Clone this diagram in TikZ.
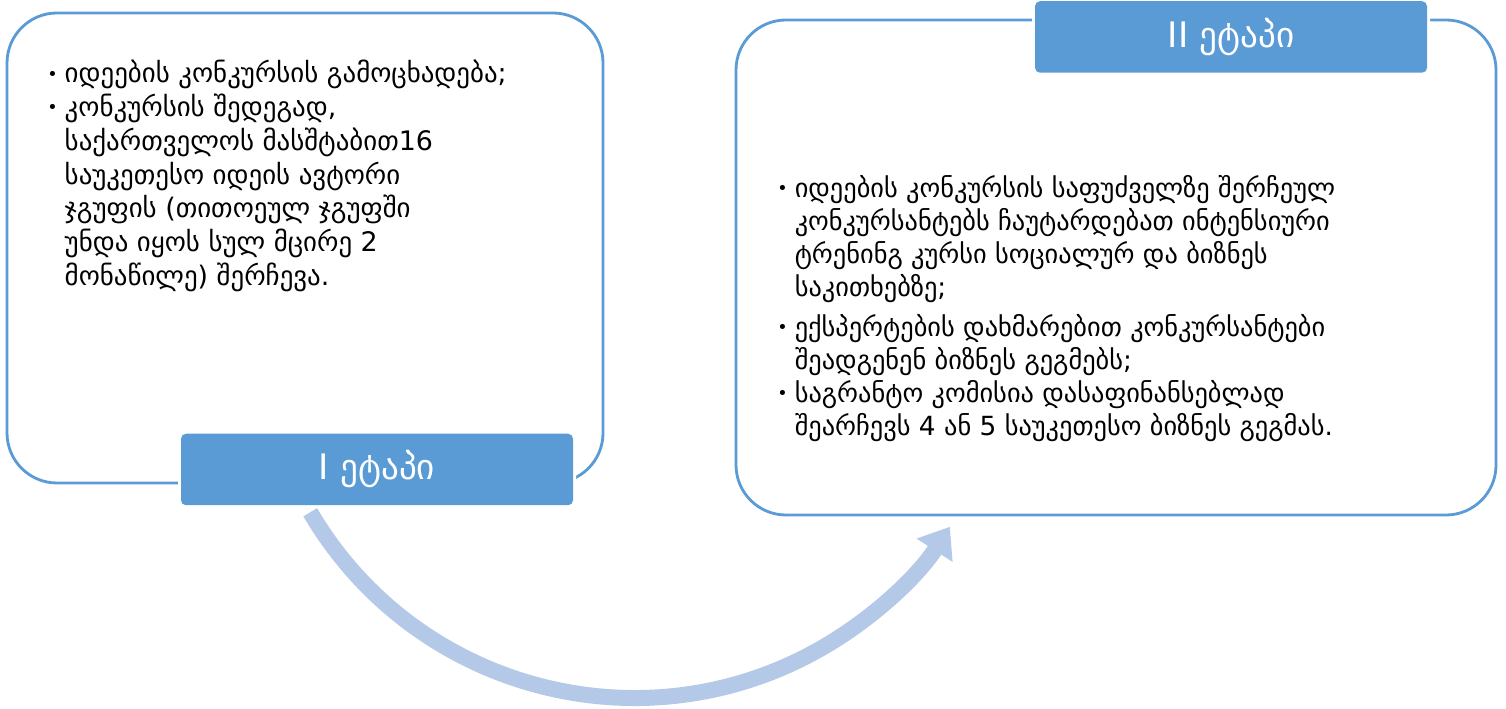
\documentclass[tikz,border=0pt]{standalone}
\usepackage{fontspec}
\setmainfont{DejaVu Sans}
\usepackage{xcolor}
\usepackage{tikz}
\usetikzlibrary{arrows.meta,positioning}

\definecolor{stageblue}{RGB}{91,155,213}
\definecolor{arrowblue}{RGB}{180,200,231}
\newcommand{\bul}{\raisebox{0.2ex}{\fontsize{10}{10}\selectfont •}}

\begin{document}
\begin{tikzpicture}[
  stagebox/.style={draw=stageblue, line width=1.6pt, rounded corners=1cm, inner sep=0pt},
  stagelabel/.style={fill=stageblue, rounded corners=0.1cm, text=white, inner sep=0pt,
    minimum width=7.84cm, minimum height=1.43cm, font=\fontsize{20}{20}\selectfont,
    preaction={draw=white, line width=0.12cm}},
  itemtext/.style={anchor=north west, inner sep=0pt, align=left},
  flowarrow/.style={draw=arrowblue, line width=0.32cm, -{Triangle[length=0.56cm, width=0.82cm]}}
]
\useasboundingbox (0,0) rectangle (30.12,14.18);

% Stage I
\node[stagebox, minimum width=11.92cm, minimum height=9.4cm] (box1) at (6.1,9.22) {};
\node[itemtext] (text1) at (0.94,13.0) {\fontsize{15.3}{19.2}\selectfont
  \begin{tabular}{@{}c@{\hspace{4pt}}l@{}}
  \bul & იდეების კონკურსის გამოცხადება;\\
  \bul & კონკურსის შედეგად,\\
       & საქართველოს მასშტაბით16\\
       & საუკეთესო იდეის ავტორი\\
       & ჯგუფის (თითოეულ ჯგუფში\\
       & უნდა იყოს სულ მცირე 2\\
       & მონაწილე) შერჩევა.
  \end{tabular}};
\node[stagelabel] (lab1) at (7.54,4.79) {I ეტაპი};

% Stage II
\node[stagebox, minimum width=15.2cm, minimum height=9.9cm] (box2) at (22.32,8.83) {};
\node[itemtext] (text2) at (15.54,10.7) {\fontsize{15}{18.8}\selectfont
  \begin{tabular}{@{}c@{\hspace{4pt}}l@{}}
  \bul & იდეების კონკურსის საფუძველზე შერჩეულ\\
       & კონკურსანტებს ჩაუტარდებათ ინტენსიური\\
       & ტრენინგ კურსი სოციალურ და ბიზნეს\\
       & საკითხებზე;\\[4pt]
  \bul & ექსპერტების დახმარებით კონკურსანტები\\
       & შეადგენენ ბიზნეს გეგმებს;\\
  \bul & საგრანტო კომისია დასაფინანსებლად\\
       & შეარჩევს 4 ან 5 საუკეთესო ბიზნეს გეგმას.
  \end{tabular}};
\node[stagelabel] (lab2) at (24.62,13.44) {II ეტაპი};

% Curved arrow from stage I to stage II
\coordinate (ctr) at (12.69,7.74);
\draw[flowarrow] ([shift={(210.4:7.52)}]ctr) arc[start angle=210.4, end angle=327, radius=7.52];
\end{tikzpicture}
\end{document}
